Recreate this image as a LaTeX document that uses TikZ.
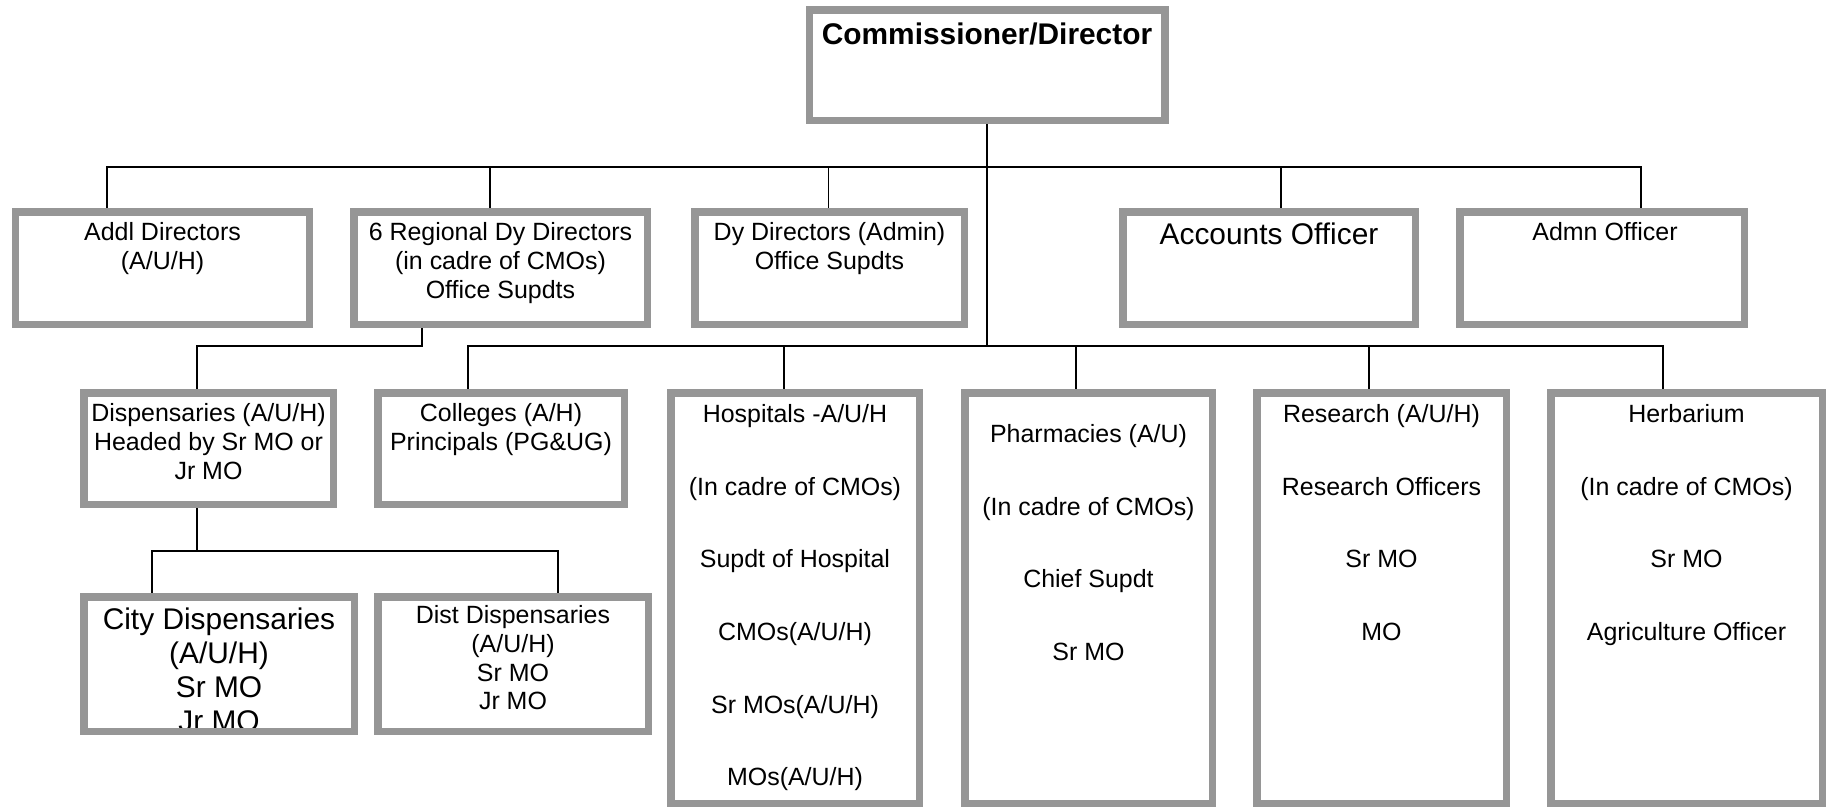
\documentclass[tikz,border=0pt]{standalone}
\usepackage{fontspec}
\setmainfont{Liberation Sans}
\definecolor{boxgray}{RGB}{150,150,150}
\tikzset{
    unit/.style={draw=boxgray, line width=0.075cm, rectangle, inner sep=0pt},
    txt/.style={anchor=north, align=center, inner sep=0pt, font=\fontsize{7.1}{8.14}\selectfont},
    bigtxt/.style={txt, font=\fontsize{8.5}{9.65}\selectfont},
    headtxt/.style={txt, font=\fontsize{8.5}{9.65}\selectfont\bfseries},
    listtxt/.style={txt, font=\fontsize{7.1}{20.65}\selectfont},
    link/.style={draw=black, line width=0.45pt}
}

\begin{document}
\begin{tikzpicture}[x=1cm, y=-1cm]
    \useasboundingbox (0,0) rectangle (18.29,8.08);

    % Texts of the units
    \node[headtxt] (directortext) at (9.87,0.22) {Commissioner/Director};
    \node[txt] (addltext) at (1.625,2.22) {Addl Directors\\(A/U/H)};
    \node[txt] (regionaltext) at (5.005,2.22) {6 Regional Dy Directors\\(in cadre of CMOs)\\Office Supdts};
    \node[txt] (dyadmintext) at (8.295,2.22) {Dy Directors (Admin)\\Office Supdts};
    \node[bigtxt] (accountstext) at (12.69,2.22) {Accounts Officer};
    \node[txt] (admntext) at (16.05,2.22) {Admn Officer};
    \node[txt] (disptext) at (2.085,4.03) {Dispensaries (A/U/H)\\Headed by Sr MO or\\Jr MO};
    \node[txt] (collegestext) at (5.01,4.03) {Colleges (A/H)\\Principals (PG\&UG)};
    \node[listtxt] (hosptext) at (7.95,4.04) {Hospitals -A/U/H\\(In cadre of CMOs)\\Supdt of Hospital\\CMOs(A/U/H)\\Sr MOs(A/U/H)\\MOs(A/U/H)};
    \node[listtxt] (pharmtext) at (10.885,4.24) {Pharmacies (A/U)\\(In cadre of CMOs)\\Chief Supdt\\Sr MO};
    \node[listtxt] (researchtext) at (13.815,4.04) {Research (A/U/H)\\Research Officers\\Sr MO\\MO};
    \node[listtxt] (herbtext) at (16.865,4.04) {Herbarium\\(In cadre of CMOs)\\Sr MO\\Agriculture Officer};
    \node[bigtxt] (citytext) at (2.19,6.07) {City Dispensaries\\(A/U/H)\\Sr MO\\Jr MO};
    \node[txt] (disttext) at (5.13,6.05) {Dist Dispensaries\\(A/U/H)\\Sr MO\\Jr MO};

    % Draw the units
    \node[unit, minimum width=3.555cm, minimum height=1.105cm] (director) at (9.87,0.65) {};
    \node[unit, minimum width=2.935cm, minimum height=1.125cm] (addl) at (1.625,2.68) {};
    \node[unit, minimum width=2.935cm, minimum height=1.125cm] (regional) at (5.005,2.68) {};
    \node[unit, minimum width=2.695cm, minimum height=1.125cm] (dyadmin) at (8.295,2.68) {};
    \node[unit, minimum width=2.925cm, minimum height=1.125cm] (accounts) at (12.69,2.68) {};
    \node[unit, minimum width=2.845cm, minimum height=1.125cm] (admn) at (16.02,2.68) {};
    \node[unit, minimum width=2.495cm, minimum height=1.115cm] (disp) at (2.085,4.485) {};
    \node[unit, minimum width=2.465cm, minimum height=1.115cm] (colleges) at (5.01,4.485) {};
    \node[unit, minimum width=2.485cm, minimum height=4.105cm] (hosp) at (7.95,5.98) {};
    \node[unit, minimum width=2.475cm, minimum height=4.105cm] (pharm) at (10.885,5.98) {};
    \node[unit, minimum width=2.495cm, minimum height=4.105cm] (research) at (13.815,5.98) {};
    \node[unit, minimum width=2.715cm, minimum height=4.105cm] (herb) at (16.865,5.98) {};
    \node[unit, minimum width=2.705cm, minimum height=1.345cm] (city) at (2.19,6.64) {};
    \node[unit, minimum width=2.705cm, minimum height=1.345cm] (dist) at (5.13,6.64) {};

    % Junctions of the lines
    \coordinate (busone) at (9.87,1.67);
    \coordinate (bustwo) at (9.87,3.46);
    \coordinate (dispbus) at (4.22,3.46);
    \coordinate (subbus) at (1.97,5.51);

    % Draw the lines
    \draw[link] (director) -- (bustwo);

    \draw[link] (busone) -| ([xshift=-0.555cm]addl.north);
    \draw[link] (busone) -| ([xshift=-0.105cm]regional.north);
    \draw[link] (busone) -| ([xshift=-0.01cm]dyadmin.north);
    \draw[link] (busone) -| ([xshift=0.12cm]accounts.north);
    \draw[link] (busone) -| ([xshift=0.39cm]admn.north);

    \draw[link] (bustwo) -| ([xshift=-0.33cm]colleges.north);
    \draw[link] (bustwo) -| ([xshift=-0.11cm]hosp.north);
    \draw[link] (bustwo) -| ([xshift=-0.125cm]pharm.north);
    \draw[link] (bustwo) -| ([xshift=-0.125cm]research.north);
    \draw[link] (bustwo) -| ([xshift=-0.235cm]herb.north);

    \draw[link] (dispbus |- regional.south) -- (dispbus) -| ([xshift=-0.115cm]disp.north);

    \draw[link] (subbus |- disp.south) -- (subbus);
    \draw[link] (subbus) -| ([xshift=-0.67cm]city.north);
    \draw[link] (subbus) -| ([xshift=0.45cm]dist.north);
\end{tikzpicture}
\end{document}
